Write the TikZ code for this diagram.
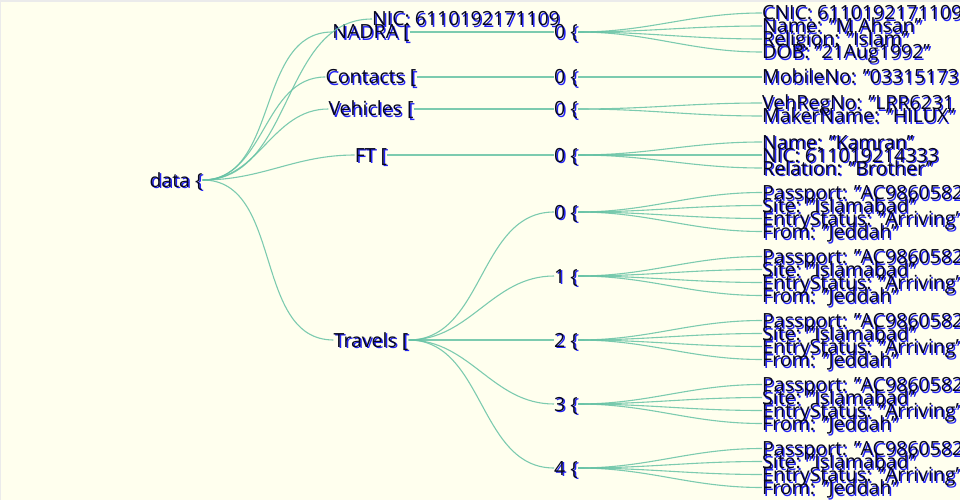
\documentclass[tikz,border=0pt]{standalone}
\usepackage{fontspec}
\setmainfont{Open Sans}
\definecolor{paper}{HTML}{FFFFEE}
\definecolor{ink}{HTML}{06061C}
\definecolor{glow}{HTML}{2222F5}
\definecolor{branch}{HTML}{66C2A5}
\newcommand{\shadowed}[1]{\makebox[0pt][l]{\hspace{1.5pt}\raisebox{-1.5pt}{\textcolor{glow}{#1}}}#1}

\begin{document}
\begin{tikzpicture}[x=1pt, y=-1pt, font=\fontsize{19.5}{20}\selectfont,
  inner/.style={anchor=base, inner sep=0pt, text height=17pt, text depth=3pt, text=ink},
  leaf/.style={inner, anchor=base west},
  link/.style={draw=branch, line width=1.1pt, opacity=.85}]

\useasboundingbox (0,0) rectangle (960,500);
\fill[paper] (0,0) rectangle (960,500);
\fill[black!8] (0,0) rectangle (960,2);
\fill[black!8] (0,0) rectangle (1,500);

\node[inner] (data) at (176,187) {\shadowed{data \{}};

\node[leaf] (nic) at (372,26) {\shadowed{NIC: 6110192171109}};
\node[inner] (nadra) at (371,39) {\shadowed{NADRA [}};
\node[inner] (contacts) at (371,84) {\shadowed{Contacts [}};
\node[inner] (vehicles) at (371,116) {\shadowed{Vehicles [}};
\node[inner] (ft) at (371,162) {\shadowed{FT [}};
\node[inner] (travels) at (371,347) {\shadowed{Travels [}};

\node[inner] (n0) at (566,39) {\shadowed{0 \{}};
\node[inner] (c0) at (566,84) {\shadowed{0 \{}};
\node[inner] (v0) at (566,116) {\shadowed{0 \{}};
\node[inner] (f0) at (566,162) {\shadowed{0 \{}};

% NADRA record
\node[leaf] (cnic) at (762,20) {\shadowed{CNIC: 6110192171109}};
\node[leaf] (name) at (762,33) {\shadowed{Name: "M Ahsan"}};
\node[leaf] (religion) at (762,46) {\shadowed{Religion: "Islam"}};
\node[leaf] (dob) at (762,59) {\shadowed{DOB: "21Aug1992"}};

\node[leaf] (mobile) at (762,84) {\shadowed{MobileNo: "03315173}};

\node[leaf] (vehreg) at (762,110) {\shadowed{VehRegNo: "LRR6231}};
\node[leaf] (maker) at (762,123) {\shadowed{MakerName: "HILUX"}};

\node[leaf] (ftname) at (762,149) {\shadowed{Name: "Kamran"}};
\node[leaf] (ftnic) at (762,162) {\shadowed{NIC: 611019214333}};
\node[leaf] (relation) at (762,175) {\shadowed{Relation: "Brother"}};

\draw[link] (data.east) to[out=0,in=180] (nic.west);
\foreach \k in {nadra,contacts,vehicles,ft,travels}
  \draw[link] (data.east) to[out=0,in=180] (\k.west);

\draw[link] (nadra.east) -- (n0.west);
\draw[link] (contacts.east) -- (c0.west);
\draw[link] (vehicles.east) -- (v0.west);
\draw[link] (ft.east) -- (f0.west);

\foreach \k in {cnic,name,religion,dob}
  \draw[link] (n0.east) to[out=0,in=180] (\k.west);
\draw[link] (c0.east) -- (mobile.west);
\foreach \k in {vehreg,maker}
  \draw[link] (v0.east) to[out=0,in=180] (\k.west);
\foreach \k in {ftname,ftnic,relation}
  \draw[link] (f0.east) to[out=0,in=180] (\k.west);

% Travels entries
\foreach \i/\b in {0/219,1/283,2/347,3/411,4/475} {
  \node[inner] (t\i) at (566,\b) {\shadowed{\i\ \{}};
  \node[leaf] (tp\i) at (762,{\b-19.5}) {\shadowed{Passport: "AC9860582}};
  \node[leaf] (ts\i) at (762,{\b-6.5}) {\shadowed{Site: "Islamabad"}};
  \node[leaf] (te\i) at (762,{\b+6.5}) {\shadowed{EntryStatus: "Arriving"}};
  \node[leaf] (tf\i) at (762,{\b+19.5}) {\shadowed{From: "Jeddah"}};
  \draw[link] (travels.east) to[out=0,in=180] (t\i.west);
  \foreach \k in {tp,ts,te,tf}
    \draw[link] (t\i.east) to[out=0,in=180] (\k\i.west);
}

\end{tikzpicture}
\end{document}
